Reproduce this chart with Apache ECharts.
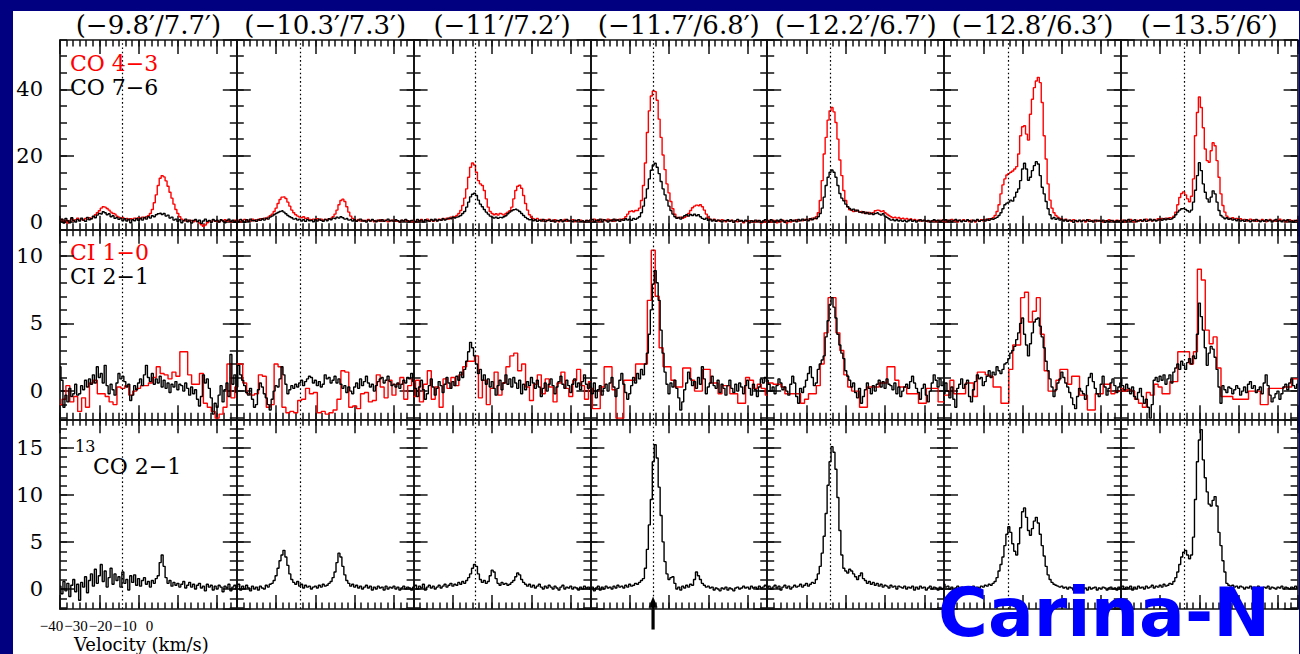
<!DOCTYPE html>
<html><head><meta charset="utf-8">
<script src="https://cdn.jsdelivr.net/npm/echarts@6/dist/echarts.min.js"></script>
<style>
html,body{margin:0;padding:0;background:#000080;}
#wrap{position:relative;width:1300px;height:654px;background:#000080;overflow:hidden;}
#paper{position:absolute;left:13px;top:11px;width:1286px;height:643px;background:#fff;}
#chart{position:absolute;left:0;top:0;width:1300px;height:654px;}
</style></head><body>
<div id="wrap"><div id="paper"></div><div id="chart"></div></div>
<script>
// ---------------- DATA ----------------
const panelTitles = ['(−9.8′/7.7′)','(−10.3′/7.3′)','(−11′/7.2′)','(−11.7′/6.8′)','(−12.2′/6.7′)','(−12.8′/6.3′)','(−13.5′/6′)'];
const velFine = [-40,-39,-38,-37,-36,-35,-34,-33,-32,-31,-30,-29,-28,-27,-26,-25,-24,-23,-22,-21,-20,-19,-18,-17,-16,-15,-14,-13,-12,-11,-10,-9,-8,-7,-6,-5,-4,-3,-2,-1,0,1,2,3,4,5,6,7,8,9,10,11,12,13,14,15,16,17,18,19,20,21,22,23,24,25,26,27,28,29,30,31,32,33,34,35,36,37,38,39,40,41,42,43,44,45,46,47,48,49,50];
const velCoarse = [-40,-38,-36,-34,-32,-30,-28,-26,-24,-22,-20,-18,-16,-14,-12,-10,-8,-6,-4,-2,0,2,4,6,8,10,12,14,16,18,20,22,24,26,28,30,32,34,36,38,40,42,44,46,48,50];
const dottedV = [-8.3,-7.8,-8.6,-8.1,-7.9,-7.4,-7.9];
const yTicksCO = [0,20,40];
const yTicksCI = [0,5,10];
const yTicks13 = [0,5,10,15];
const velTickLabels = [-40,-30,-20,-10,0];

// CO 4-3 (red), 1 km/s channels, per panel
const co43 = [
[0.3,0.8,0.2,0.6,-0.3,0.5,1.0,0.4,0.7,1.2, 0.6,0.9,0.5,1.1,0.8,1.3,1.0,1.6,2.2,2.8, 3.4,4.2,4.6,4.5,4.1,3.6,3.0,2.6,2.4,1.8, 1.5,1.2,1.4,0.9,1.1,0.7,1.0,0.8,1.2,0.9, 1.3,1.0,1.5,1.2,1.6,1.9,2.6,3.8,5.8,8.2, 11.0,13.2,14.0,13.6,12.4,10.8,9.0,7.2,5.4,3.8, 2.6,1.6,0.9,0.5,0.3,0.6,0.2,0.5,0.1,0.4, 0.2,-0.3,-0.8,-1.3,-0.9,-0.2,0.3,0.1,0.6,0.2, 0.4,0.0,0.5,0.3,0.7,0.2,0.5,0.1,0.4,0.6,0.3],
[0.3,0.6,0.1,0.5,0.8,0.2,0.6,0.3,0.9,0.4, 0.7,0.5,1.0,0.8,1.2,1.0,1.5,1.9,2.4,3.2, 4.2,5.6,6.8,7.5,7.6,7.1,6.0,4.8,3.6,2.8, 2.2,1.8,1.5,1.3,1.6,1.1,1.3,0.8,0.6,0.9, 0.7,1.0,0.6,0.9,0.5,0.8,0.7,1.0,1.2,1.6, 2.4,3.6,5.2,6.5,6.9,6.2,4.6,3.0,1.8,1.1, 0.7,0.4,0.8,0.3,0.6,0.2,0.5,0.8,0.3,0.6, 0.1,0.5,0.3,0.7,0.2,0.6,0.4,0.1,0.5,0.3, 0.6,0.2,0.4,0.0,0.5,0.3,0.7,0.2,0.4,0.1,0.5],
[0.4,0.1,0.7,0.3,0.8,0.2,0.5,0.9,0.3,0.6, 0.2,0.7,0.4,0.9,0.5,1.1,0.8,1.2,0.9,1.5, 1.3,1.6,2.0,2.6,3.5,5.0,7.2,10.0,13.5,16.5, 17.8,17.2,15.0,12.5,11.5,11.0,9.5,7.0,4.5,3.2, 2.6,2.2,2.5,2.1,2.6,2.4,2.1,2.6,3.0,3.4, 4.5,7.0,9.5,10.8,11.1,10.2,8.0,5.6,3.6,2.2, 1.4,1.0,0.7,1.1,0.5,0.8,0.3,0.7,0.4,0.9, 0.5,0.2,0.7,0.4,0.1,0.6,0.3,0.8,0.2,0.5, 0.3,0.7,0.1,0.5,0.2,0.6,0.4,0.0,0.5,0.3,0.6],
[0.6,0.2,0.9,0.4,0.7,0.1,0.8,0.5,0.3,0.9, 0.4,0.7,0.2,0.8,0.5,0.9,0.6,1.0,1.6,2.4, 3.2,3.4,3.1,3.5,3.5,4.2,6.5,11.0,17.8,27.0, 33.5,38.0,39.5,39.3,36.7,31.0,25.5,20.2,15.8,11.5, 8.8,6.2,4.0,2.4,1.4,1.2,1.5,1.1,1.4,1.8, 2.6,3.5,4.3,4.8,5.1,4.9,5.2,4.6,3.6,2.4, 1.4,0.8,0.5,0.9,0.3,0.6,0.2,0.7,0.4,0.1, 0.5,0.2,0.6,-0.1,0.4,0.1,0.5,0.2,-0.2,0.3, 0.1,0.4,-0.1,0.3,0.0,0.5,0.2,-0.3,0.3,0.0,0.4],
[0.2,0.5,0.0,0.6,0.3,-0.2,0.4,0.1,0.6,0.2, -0.3,0.3,0.0,0.5,0.2,0.7,0.3,0.6,0.4,0.8, 0.5,0.9,0.7,1.2,1.0,1.6,2.8,6.5,12.5,20.5, 25.5,30.7,33.5,34.5,33.2,30.0,25.0,18.7,14.0,9.5, 6.5,4.6,3.7,3.5,3.2,3.6,3.3,3.0,3.2,2.8, 3.0,2.6,2.9,2.5,2.8,3.4,3.6,3.5,3.2,3.4, 2.8,2.4,2.0,1.6,1.3,1.5,1.2,1.4,1.0,1.2, 0.9,1.1,0.8,1.0,0.6,0.8,0.5,0.7,0.3,0.5, 0.3,0.4,0.1,0.3,0.2,0.5,0.1,0.4,0.6,0.3,0.8],
[0.4,0.1,0.6,0.3,0.8,0.2,0.5,0.0,0.6,0.3, 0.7,0.2,0.5,0.1,0.6,0.4,0.0,0.5,0.3,0.7, 0.4,0.8,0.5,1.0,0.8,1.3,2.0,3.2,5.2,8.5, 11.2,13.0,14.2,14.6,15.0,15.4,16.0,16.7,20.5,26.0, 28.7,29.0,26.5,24.7,32.5,37.0,40.5,42.5,43.6,42.0, 36.0,26.0,19.0,11.5,6.6,4.2,2.8,2.0,1.5,1.1, 0.8,0.5,0.9,0.3,0.6,0.2,0.7,0.4,0.1,0.5, 0.3,0.6,0.0,0.4,0.7,0.2,0.5,0.1,0.6,0.3, 0.5,0.0,0.4,0.2,0.7,0.3,0.5,0.1,0.6,0.4,0.2],
[0.2,0.6,0.1,0.5,0.3,0.8,0.4,0.0,0.6,0.3, 0.7,0.2,0.5,0.9,0.4,0.7,0.3,0.8,0.5,1.0, 0.6,1.1,0.8,1.2,0.9,1.3,1.2,1.8,3.0,5.2, 7.4,8.6,9.1,8.2,7.0,6.1,7.8,13.0,26.0,33.0, 37.7,34.5,28.4,22.0,18.5,18.0,21.5,23.9,23.0,18.5, 13.5,8.5,5.0,3.0,1.8,1.2,0.9,1.3,0.8,1.1, 0.7,1.0,0.5,0.8,0.3,0.6,0.9,0.4,0.7,0.2, 0.6,0.3,0.8,0.4,0.1,0.5,0.8,0.3,0.6,0.2, 0.5,0.9,0.3,0.6,0.1,0.4,0.7,0.2,0.5,0.3,0.6]
];
// CO 7-6 (black)
const co76 = [
[0.2,0.9,-0.3,1.1,0.4,-0.2,1.3,0.5,0.0,0.8, 0.3,1.2,0.6,0.2,1.4,0.7,1.0,1.8,1.3,2.1, 2.6,2.4,3.1,2.8,2.2,2.5,1.6,1.9,1.1,1.4, 0.8,1.2,0.4,1.0,0.3,0.9,-0.2,0.7,0.4,1.1, 0.5,1.2,0.6,1.4,0.9,1.6,1.2,1.9,1.6,2.2, 2.5,2.7,2.3,2.6,1.8,2.1,1.2,1.5,0.6,0.9, 0.2,0.7,-0.2,0.4,0.9,0.1,0.6,-0.3,0.5,0.8, 0.1,0.6,-0.4,0.3,0.9,0.2,0.5,-0.1,0.8,0.3, 0.6,0.0,0.7,0.3,-0.2,0.5,0.9,0.2,0.6,-0.1,0.4],
[0.6,0.1,0.8,0.3,-0.1,0.7,0.2,0.9,0.4,0.6, 0.2,0.8,0.5,1.0,0.6,1.2,0.9,1.5,1.8,2.2, 2.6,2.9,3.2,3.4,3.0,2.5,2.0,1.6,1.3,0.9, 1.1,0.6,0.9,0.3,0.7,0.2,0.8,0.4,0.6,0.1, 0.7,0.3,0.9,0.5,0.2,0.8,0.4,1.0,0.7,1.2, 1.0,1.5,1.2,1.6,1.3,0.9,1.1,0.6,0.8,0.3, 0.7,0.2,0.6,0.9,0.3,0.5,0.0,0.6,0.3,0.8, 0.4,0.1,0.6,0.3,0.7,0.2,0.5,0.9,0.3,0.6, 0.2,0.7,0.4,0.0,0.6,0.3,0.8,0.4,0.1,0.5,0.3],
[0.5,0.1,0.8,0.3,0.6,0.0,0.7,0.4,0.2,0.8, 0.4,0.9,0.3,0.7,0.5,1.0,0.6,0.9,1.2,1.0, 1.4,1.2,1.5,1.7,2.0,2.6,3.2,4.5,6.0,7.6, 8.4,8.7,8.0,6.6,5.4,4.6,3.8,3.0,2.4,1.8, 1.5,1.2,1.5,1.1,1.4,1.3,1.6,1.9,2.5,3.0, 3.4,3.7,3.9,3.6,3.2,2.6,2.0,1.4,1.0,0.7, 0.9,0.4,0.7,0.2,0.6,0.3,0.8,0.1,0.5,0.7, 0.2,0.6,0.0,0.5,0.3,0.7,0.1,0.4,0.8,0.3, 0.5,0.1,0.6,0.3,0.7,0.2,0.4,0.0,0.5,0.3,0.6],
[0.3,0.8,0.1,0.6,0.4,0.9,0.2,0.7,0.5,0.0, 0.6,0.3,0.9,0.4,0.7,0.2,0.8,0.5,1.0,0.6, 0.9,0.5,1.1,0.8,1.2,1.6,2.8,4.8,7.2,10.0, 13.0,15.6,17.2,17.7,16.5,14.6,12.2,10.0,8.2,6.6, 4.8,3.5,2.4,1.6,1.1,1.4,0.9,1.5,1.9,2.2, 1.8,2.3,2.0,2.4,1.9,2.2,1.6,1.1,0.8,1.2, 0.5,0.9,0.3,0.7,0.2,0.6,0.4,0.0,0.5,0.3, 0.7,0.2,0.5,-0.1,0.4,0.8,0.2,0.5,0.1,0.6, 0.3,-0.2,0.4,0.1,0.6,0.2,0.5,-0.1,0.3,0.7,0.2],
[0.5,0.1,0.7,0.3,0.0,0.6,0.2,0.8,0.4,-0.1, 0.5,0.2,0.7,0.3,0.6,0.1,0.8,0.4,0.9,0.5, 0.8,0.4,1.0,0.7,1.2,1.0,1.6,2.6,4.2,7.5, 11.0,13.5,15.0,15.7,15.0,13.5,11.0,8.6,7.2,6.4, 5.4,4.6,4.1,3.6,3.9,3.3,3.6,3.0,2.8,3.1, 2.6,2.9,2.4,2.7,2.3,2.6,2.8,2.4,2.1,2.5, 1.8,1.4,1.0,0.6,0.8,0.4,0.7,0.3,0.6,0.2, 0.5,0.1,0.4,0.7,0.2,0.5,0.0,0.4,0.7,0.3, 0.6,0.2,0.5,0.0,0.4,0.7,0.3,0.6,0.1,0.5,0.8],
[0.3,0.7,0.2,0.6,0.0,0.5,0.8,0.3,0.6,0.1, 0.5,0.2,0.7,0.4,0.0,0.6,0.3,0.8,0.2,0.5, 0.7,0.3,0.9,0.5,1.0,0.8,1.1,1.4,2.0,2.8, 4.0,5.2,5.7,6.0,6.6,6.3,7.5,9.0,10.0,12.5, 16.0,17.7,16.0,12.6,13.5,15.5,17.0,18.2,17.5,14.0, 10.5,8.5,6.2,4.0,2.2,1.0,1.4,0.8,1.2,0.6, 0.9,0.3,0.7,0.2,0.6,0.4,-0.1,0.5,0.2,0.6, 0.1,0.5,0.3,0.7,0.2,0.4,0.0,0.6,0.3,0.5, 0.2,0.6,-0.1,0.4,0.1,0.5,0.3,0.0,0.4,0.2,0.5],
[0.5,0.1,0.6,0.3,0.8,0.2,0.5,0.7,0.1,0.4, 0.6,0.3,0.8,0.2,0.5,0.9,0.4,0.7,0.3,0.6, 0.9,0.5,1.0,0.7,1.1,0.8,1.0,1.4,2.2,3.0, 3.6,4.0,4.1,3.8,3.4,3.0,3.6,6.0,9.6,14.0, 17.9,15.5,11.5,9.0,7.0,6.0,7.5,9.4,8.5,6.0, 3.5,2.0,1.5,1.0,1.3,0.8,1.1,0.6,0.9,0.4, 0.8,0.3,0.6,0.2,0.7,0.4,0.1,0.6,0.3,0.8, 0.4,0.1,0.5,0.2,0.7,0.3,0.6,0.0,0.4,0.8, 0.2,0.5,0.1,0.6,0.3,0.7,0.2,0.4,0.0,0.5,0.3]
];
// CI 1-0 (red), 2 km/s channels
const ci10 = [
[-1.0,-0.6,0.4,-0.8,-0.4,-1.5,-0.5,-1.2,0.6,0.8, -0.2,-0.2,-0.4,-0.8,-1.0,0.3,0.2,0.4,-0.3,0.0, 0.2,0.4,0.4,0.6,1.0,1.8,1.3,1.2,0.9,1.4, 1.1,2.9,2.9,1.2,0.5,0.5,1.3,-0.9,-1.2,-1.5, -2.0,-1.7,-1.2,2.0,-0.5,0.3],
[2.0,2.0,0.6,-0.2,-0.3,-0.2,1.2,1.1,-1.2,-1.0, 2.0,1.8,-1.2,-1.6,-1.5,-1.6,-0.7,-0.6,0.2,-0.2, -0.1,-1.6,-1.5,-1.7,-1.6,-1.4,-0.6,1.5,1.4,-1.2, -1.1,-1.3,-0.2,-0.1,-0.8,-0.7,1.2,0.3,-0.5,0.8, -0.3,0.5,1.0,-0.6,0.4,0.9],
[-0.4,0.8,-0.8,0.5,1.5,-0.6,0.3,-1.2,0.9,0.2, 1.0,0.4,1.2,1.8,2.2,2.2,2.6,-0.5,0.8,-1.0, 0.2,1.4,-0.3,0.6,1.8,2.6,2.8,1.5,2.0,0.3, -0.7,0.5,1.2,-0.2,0.9,0.3,-0.8,0.6,1.4,0.2, -0.4,0.8,1.6,0.4,-0.6,0.7],
[0.2,-1.3,-1.3,0.3,1.8,1.8,0.1,-2.0,-2.0,0.8, 0.8,0.8,2.0,2.0,2.0,6.7,10.4,7.0,3.2,1.8, 1.8,0.8,0.3,0.3,1.7,1.7,0.8,0.0,0.0,1.6, 1.6,0.6,0.6,-0.2,0.4,0.4,-0.2,-0.2,-0.9,-0.9, 1.0,0.8,0.2,0.5,0.2,-0.3],
[0.6,0.6,0.5,0.5,0.3,-0.2,-0.2,-0.2,-0.2,-0.9, -0.6,-0.2,-0.2,0.4,2.0,4.3,6.9,6.9,4.3,3.0, 1.2,0.3,0.0,0.0,-1.2,-1.2,0.3,0.3,0.3,0.6, 0.6,1.8,1.8,0.8,0.3,0.3,-0.2,-0.2,-0.2,-0.9, -0.9,0.2,0.2,0.2,-0.8,-0.8],
[-0.3,-0.3,0.8,-0.2,-0.2,-0.2,0.6,0.6,-0.4,1.4, 1.4,1.2,1.1,0.3,0.3,-0.9,-0.9,1.6,3.4,3.4, 6.9,7.3,5.1,5.9,6.9,4.2,1.5,0.0,0.0,0.8, 1.6,1.6,0.5,1.1,1.1,-0.3,-0.3,-1.4,-1.4,-0.2, -0.2,0.5,0.5,-0.2,0.0,0.0],
[0.2,0.0,0.1,0.0,-0.6,-0.9,-1.2,-0.1,-0.3,0.5, 0.3,-0.2,-0.2,0.7,0.7,2.9,2.9,2.9,2.0,2.9, 9.0,8.2,4.5,3.5,4.0,1.7,-0.4,-0.4,-0.4,-0.6, -0.6,-0.6,-0.6,0.0,0.0,0.0,-1.0,-1.0,0.2,0.2, 0.2,0.2,0.3,0.3,0.9,0.9]
];
// CI 2-1 (black)
const ci21 = [
[1.8,0.8,-1.2,-0.3,-0.8,0.2,-0.4,-0.2,0.5,-0.3, -0.2,0.4,0.1,0.8,0.3,0.9,0.5,1.2,0.6,1.8, 1.0,1.3,0.6,1.9,0.4,-0.2,0.5,0.1,-0.3,0.6, 1.3,0.9,1.1,0.7,0.3,0.5,-0.7,-0.3,0.4,0.1, 0.6,0.9,0.4,1.2,1.9,1.0,0.7,1.3,0.5,0.9, 0.6,1.1,0.3,0.8,0.2,0.6,-0.1,0.5,0.3,0.7, 0.1,0.5,0.4,0.0,0.6,0.2,-0.3,0.3,-0.2,0.1, -0.6,-1.1,-0.4,1.2,0.6,0.9,0.2,-0.5,-1.7,-0.9, -1.2,-0.3,0.4,-0.8,0.1,0.6,-0.4,2.7,0.5,1.2,-0.1],
[0.3,1.9,1.2,0.8,0.4,-0.1,-0.3,0.2,-0.6,-1.2, -1.0,0.1,0.6,0.3,-0.2,-0.5,-1.0,-1.4,-0.6,0.0, 0.4,0.3,0.9,1.8,1.2,0.5,-0.2,0.1,0.4,0.2, 0.5,0.3,0.6,0.8,0.4,0.7,0.9,1.1,1.0,0.6, 0.8,0.4,0.7,0.3,0.5,1.2,0.9,1.0,0.6,0.8, 1.1,0.6,0.9,0.5,0.2,0.4,-0.1,0.3,0.0,-0.2, 0.3,0.6,0.2,0.9,0.4,0.7,1.1,0.6,0.3,0.5, 0.0,0.4,0.7,0.9,1.0,0.6,0.8,1.1,0.7,0.4, 0.5,0.3,0.6,0.2,0.5,0.8,0.6,1.0,0.9,1.3,0.7],
[0.6,0.2,-0.4,0.3,0.8,0.1,-0.6,-0.2,0.4,0.9, 0.3,-0.3,0.2,0.7,0.4,-0.1,0.5,1.0,0.6,0.2, 0.7,0.4,1.1,0.8,1.4,1.0,1.6,2.2,2.9,3.6, 3.2,2.6,2.0,1.3,1.6,0.8,1.2,0.5,0.9,0.3, 0.7,0.2,-0.3,0.4,0.8,0.1,0.6,1.2,0.5,0.9, 0.3,1.0,0.6,0.2,0.8,-0.2,0.5,0.1,0.7,0.4, 1.0,0.6,0.2,0.8,0.3,-0.4,0.2,0.6,0.0,0.5, 0.9,0.4,-0.2,0.3,0.7,1.1,0.5,0.2,0.8,0.4, -0.1,0.5,0.9,0.3,0.6,0.1,0.7,1.2,0.5,0.2,0.6],
[0.3,-0.2,0.6,-0.5,0.1,0.4,-0.3,0.2,0.5,0.0, 0.6,1.0,0.3,-0.4,0.2,0.8,1.3,0.5,-0.1,-0.6, -0.2,0.4,1.0,0.6,1.3,0.9,1.6,1.2,2.0,2.8, 4.2,6.0,7.9,8.9,8.0,6.7,4.5,2.8,1.4,0.5, -0.2,0.6,0.3,0.8,0.2,-0.5,-1.4,-0.8,0.1,0.6, 1.4,0.9,0.4,0.7,0.2,1.0,0.5,1.8,0.9,-0.2, 0.3,0.6,1.1,0.4,0.2,0.8,-0.1,0.5,0.2,-0.3, 0.4,0.8,0.2,-0.1,0.5,0.0,0.6,0.3,-0.2,0.4, 0.8,0.2,-0.3,0.5,0.1,-0.4,0.3,0.9,0.6,1.0,0.7],
[0.8,0.5,0.0,0.3,-0.2,0.4,0.9,0.6,0.1,0.3, 0.0,-0.3,0.5,1.1,0.6,-0.4,-0.9,0.2,-0.1,0.3, 0.8,1.3,1.8,1.0,0.4,0.6,1.6,2.0,2.3,2.6, 4.0,5.2,6.4,6.9,6.2,5.4,4.2,3.4,2.8,2.4, 1.5,1.1,0.8,0.3,0.6,-0.1,-0.5,0.2,-0.9,-0.4, 0.1,0.6,0.2,-0.2,0.4,0.0,0.5,0.8,0.3,0.7, 0.2,0.9,0.5,0.4,0.1,0.6,-0.2,0.3,-0.4,0.0, 0.3,0.5,0.2,0.7,1.1,0.6,0.2,-0.1,-0.6,0.2, 0.5,-0.3,-0.8,0.0,0.6,1.2,0.8,0.3,0.9,0.4,0.7],
[-0.2,0.6,0.0,-0.5,0.3,-0.6,-1.2,0.2,0.5,0.9, 0.2,0.5,0.8,-0.4,-0.8,0.1,0.7,1.2,0.9,1.0, 0.4,0.7,1.1,1.5,1.0,1.4,1.2,1.8,1.5,1.3, 1.6,2.0,2.1,2.4,2.8,3.0,3.3,3.8,4.3,5.0, 5.4,4.2,3.4,2.6,3.5,4.3,5.1,5.3,5.4,4.8, 4.0,3.2,2.2,1.5,0.9,0.3,-0.4,0.1,0.6,0.9, 1.4,1.0,0.6,0.3,-0.1,-0.5,-1.0,-1.3,-0.4,0.2, 0.0,-0.2,-0.6,0.4,1.0,1.3,0.7,0.2,-0.2,-0.4, 0.5,1.1,0.3,-0.3,0.2,0.6,0.9,0.4,-0.1,0.3,0.6],
[0.9,0.4,0.1,0.5,0.2,-0.2,0.3,-0.4,-0.6,-0.1, 0.2,-0.4,-0.9,-0.6,-1.2,-2.0,-1.0,0.8,1.0,0.7, 1.1,0.8,1.2,0.5,0.9,1.2,0.6,1.4,1.7,2.0, 1.6,2.2,1.9,1.6,2.1,2.4,2.0,2.6,2.4,4.2, 6.5,5.5,4.5,3.2,1.9,2.8,3.3,3.1,2.5,1.6, 0.3,-0.9,0.4,0.1,-0.1,0.3,0.2,-0.2,0.1,0.4, 0.2,-0.3,0.0,0.3,-0.1,0.5,0.7,0.2,0.4,-0.1, 0.1,0.3,-0.2,0.6,1.2,0.4,-0.3,-0.8,-0.5,-0.2, 0.0,-0.6,-0.2,0.3,0.5,0.1,0.6,0.9,0.4,0.2,0.5]
];
// 13CO 2-1 (black)
const co13 = [
[0.3,-0.5,0.8,-0.2,0.6,-0.8,0.4,1.0,-0.3,0.5, -1.2,0.7,0.2,1.3,-0.4,0.9,1.6,0.3,2.1,0.6, 1.4,2.6,0.8,1.9,0.2,1.2,2.2,0.5,1.6,0.9, 1.3,0.2,1.8,0.6,1.0,-0.1,1.4,0.7,1.5,0.4, 1.1,0.3,0.9,1.2,0.5,0.8,0.2,0.9,0.6,1.1, 1.4,2.8,3.6,2.4,1.2,0.6,0.9,0.3,0.7,0.4, 0.6,0.2,0.5,0.8,0.1,0.4,0.7,0.2,0.5,0.0, 0.4,0.6,0.1,0.3,-0.2,0.5,0.2,0.4,-0.1,0.3, 0.0,0.4,0.2,-0.3,0.3,0.1,0.5,-0.2,0.2,0.4,0.0],
[0.2,0.5,-0.1,0.3,0.0,0.4,0.1,-0.2,0.3,0.0, 0.2,-0.1,0.3,0.1,0.0,0.4,0.2,0.5,0.6,0.9, 1.4,2.2,3.0,3.6,4.1,3.4,2.5,1.6,1.0,0.7, 0.5,0.8,0.3,0.5,0.1,0.4,0.2,0.3,0.0,0.2, 0.3,0.1,0.4,0.2,0.5,0.3,0.4,0.6,0.8,1.2, 1.8,2.8,3.8,3.4,2.4,1.5,0.9,0.6,0.3,0.5, 0.2,0.4,0.1,0.3,0.0,0.2,0.4,0.1,0.3,-0.1, 0.2,0.0,0.3,0.1,0.2,-0.1,0.3,0.0,0.2,0.1, 0.3,0.0,0.2,-0.1,0.1,0.3,0.0,0.2,0.1,-0.1,0.2],
[0.2,0.4,0.0,0.3,0.1,0.5,-0.1,0.2,0.4,0.1, 0.3,0.0,0.2,0.4,0.1,0.3,0.5,0.2,0.4,0.6, 0.3,0.5,0.4,0.7,0.5,0.8,0.6,0.9,1.2,1.6, 2.2,2.6,2.4,1.6,1.0,0.7,0.9,0.6,0.8,1.4, 2.0,1.8,1.1,0.6,0.4,0.7,0.5,0.6,0.4,0.5, 0.7,0.9,1.3,1.7,1.5,1.0,0.7,0.5,0.3,0.5, 0.2,0.4,0.1,0.3,0.5,0.2,0.0,0.3,0.1,0.4, 0.2,0.0,0.3,0.1,-0.1,0.2,0.4,0.0,0.2,0.1, 0.3,0.0,0.2,0.1,-0.1,0.2,0.0,0.3,0.1,0.2,0.0],
[0.0,0.2,-0.2,0.1,0.3,-0.1,0.2,0.0,0.3,0.1, 0.2,0.0,0.3,0.1,0.4,0.2,0.3,0.1,0.4,0.2, 0.5,0.3,0.4,0.6,0.5,0.7,0.9,1.1,2.2,4.2, 6.8,9.5,13.5,15.3,13.9,10.8,7.8,5.0,2.9,1.6, 1.0,1.2,1.3,0.6,0.0,0.2,-0.1,0.3,0.1,0.4, 0.2,0.5,0.4,1.0,1.8,1.4,1.0,0.6,0.4,0.2, 0.3,0.1,0.2,-0.1,0.1,0.0,-0.2,0.1,0.0,0.2, -0.1,0.1,0.0,-0.2,0.1,0.2,0.0,0.1,0.3,0.1, 0.2,0.0,0.3,0.1,0.2,0.0,0.3,0.1,0.2,0.4,0.2],
[0.1,0.3,0.0,0.2,0.4,0.1,0.3,-0.1,0.2,0.4, 0.1,0.3,0.0,0.2,0.4,0.2,0.3,0.5,0.2,0.4, 0.6,0.3,0.5,0.7,0.6,1.0,1.6,2.4,3.8,5.6, 8.0,11.0,13.5,15.1,14.5,12.7,9.7,6.2,3.6,2.2, 1.9,1.7,2.1,1.9,1.6,1.3,1.0,1.4,1.7,1.1, 0.9,0.6,0.8,0.5,0.7,0.4,0.6,0.3,0.5,0.2, 0.4,0.3,0.1,0.4,0.2,0.3,0.0,0.3,0.2,0.1, 0.3,0.0,0.2,0.1,0.3,-0.1,0.2,0.0,0.3,0.1, 0.2,-0.1,0.1,0.3,0.0,0.2,0.1,-0.1,0.2,0.0,0.1],
[0.5,0.2,0.3,0.0,0.2,-0.1,0.1,0.3,0.0,0.2, 0.1,-0.1,0.2,0.0,0.1,0.3,0.0,0.2,0.1,0.3, 0.2,0.4,0.3,0.5,0.4,0.6,0.8,1.2,1.9,2.6, 3.4,4.6,5.8,6.6,6.0,4.8,4.0,3.6,4.8,6.5, 8.2,8.6,7.6,6.2,5.7,6.4,7.2,7.6,7.0,5.8, 4.6,3.5,2.4,1.5,1.0,0.7,0.5,0.4,0.3,0.2, 0.3,0.1,0.2,0.0,0.2,0.1,-0.1,0.2,0.0,0.1, 0.2,0.0,0.1,-0.1,0.2,0.0,0.1,0.2,-0.1,0.1, 0.0,0.2,0.1,-0.1,0.1,0.2,0.0,0.1,-0.1,0.2,0.0],
[0.1,0.3,0.0,0.2,0.1,0.3,-0.1,0.2,0.0,0.3, 0.1,0.2,0.0,0.3,0.1,0.2,0.4,0.1,0.3,0.2, 0.4,0.2,0.5,0.3,0.4,0.6,0.5,0.8,1.2,1.8, 2.6,3.4,3.9,4.1,3.6,3.2,3.6,5.5,9.5,13.5, 15.8,16.9,13.7,11.8,10.3,9.0,8.8,9.4,9.8,8.8, 6.0,4.6,3.0,1.8,0.6,0.4,0.3,0.4,0.2,0.3, 0.1,0.3,0.2,0.0,0.2,0.1,0.3,0.0,0.2,0.1, 0.3,0.1,0.0,0.2,0.1,0.3,0.0,0.2,0.1,0.0, 0.2,0.1,0.3,0.0,0.2,0.1,0.0,0.2,0.1,0.3,0.1]
];

// ---------------- LAYOUT ----------------
const L0 = 60, PW = 176.8, RH = 189.67;
const rowTop = [40, 229.7, 419.3];
const rowCfg = [
  {min:-2.29, max:54.85, major:20, minor:5, ticks:yTicksCO},
  {min:-2.09, max:11.92, major:5, minor:1, ticks:yTicksCI},
  {min:-2.12, max:18.0, major:5, minor:1, ticks:yTicks13}
];
const INK = '#111';
const RED = '#ff0000';
const SERIF = '"DejaVu Serif", serif';

const grids = [], xAxes = [], yAxes = [], series = [];
function xAx(g, pos, major) {
  return {type:'value', gridIndex:g, position:pos, min:-40, max:50, interval: major ? 20 : 10/3,
    axisLine:{show:major, onZero:false, lineStyle:{color:INK, width:1.7}},
    axisTick:{show:true, inside:true, length: major ? 14 : 6.5, lineStyle:{color:INK, width:1.5}},
    axisLabel:{show:false}, splitLine:{show:false}};
}
function yAx(g, r, pos, major, showLabel) {
  const R = rowCfg[r], step = major ? R.major : R.minor;
  return {type:'value', gridIndex:g, position:pos, min:R.min, max:R.max,
    minInterval:step, maxInterval:step, splitNumber:4,
    axisLine:{show:major, onZero:false, lineStyle:{color:INK, width:1.7}},
    axisTick:{show:true, inside:true, length: major ? 14 : 7, lineStyle:{color:INK, width:1.5}},
    axisLabel:{show:showLabel, margin:17, color:'#000', fontFamily:SERIF, fontSize:21,
      showMinLabel:false, showMaxLabel:false,
      formatter: v => (R.ticks.indexOf(Math.round(v*1000)/1000) >= 0 ? String(v) : '')},
    splitLine:{show:false}};
}
function mk(xs, ys) { return xs.map((v,i) => [v, ys[i]]); }
function lineSeries(g, xs, ys, color, withMark, k) {
  const s = {type:'line', xAxisIndex:4*g, yAxisIndex:4*g, data:mk(xs, ys), step:'middle',
    symbol:'none', showSymbol:false, silent:true, animation:false, clip:true,
    lineStyle:{color:color, width:1.4}, itemStyle:{color:color}};
  if (withMark) s.markLine = {silent:true, symbol:'none', animation:false, label:{show:false},
    lineStyle:{type:[1.6,2.6], color:'#000', width:1.2}, data:[{xAxis: dottedV[k]}]};
  return s;
}

for (let r = 0; r < 3; r++) {
  for (let k = 0; k < 7; k++) {
    const g = r*7 + k;
    grids.push({left: L0 + k*PW, top: rowTop[r], width: PW, height: RH, containLabel:false});
    xAxes.push(xAx(g,'bottom',true), xAx(g,'bottom',false), xAx(g,'top',true), xAx(g,'top',false));
    yAxes.push(yAx(g,r,'left',true,k===0), yAx(g,r,'left',false,false), yAx(g,r,'right',true,false), yAx(g,r,'right',false,false));
    if (r === 0) {
      series.push(lineSeries(g, velFine, co43[k], RED, true, k));
      series.push(lineSeries(g, velFine, co76[k], '#000', false, k));
    } else if (r === 1) {
      series.push(lineSeries(g, velCoarse, ci10[k], RED, true, k));
      series.push(lineSeries(g, velFine, ci21[k], '#000', false, k));
    } else {
      series.push(lineSeries(g, velFine, co13[k], '#000', true, k));
    }
  }
}
// bottom velocity label axis (as printed under the first panel)
grids.push({left:51.5, top:609, width:98, height:1, containLabel:false});
xAxes.push({type:'value', gridIndex:21, position:'bottom', min:velTickLabels[0], max:velTickLabels[velTickLabels.length-1], interval:10,
  axisLine:{show:false, onZero:false}, axisTick:{show:false}, splitLine:{show:false},
  axisLabel:{show:true, margin:8, color:'#000', fontFamily:'"Liberation Serif", serif', fontSize:15,
    formatter: v => (v < 0 ? '−' + Math.abs(v) : String(v))}});
yAxes.push({type:'value', gridIndex:21, show:false, min:0, max:1});

const chart = echarts.init(document.getElementById('chart'), null, {renderer:'svg'});
chart.setOption({animation:false, backgroundColor:'transparent', grid:grids, xAxis:xAxes, yAxis:yAxes, series:series});

// ---------------- TEXT / ANNOTATIONS ----------------
const gfx = [];
panelTitles.forEach((t, k) => gfx.push({type:'text', x: L0 + (k+0.5)*PW, y: 25,
  style:{text:t, fill:'#000', font:'26px ' + SERIF, align:'center', verticalAlign:'middle'}}));
gfx.push({type:'text', x:70, y:63, style:{text:'CO 4−3', fill:RED, font:'22px ' + SERIF, verticalAlign:'middle'}});
gfx.push({type:'text', x:70, y:87, style:{text:'CO 7−6', fill:'#000', font:'22px ' + SERIF, verticalAlign:'middle'}});
gfx.push({type:'text', x:70, y:252, style:{text:'CI 1−0', fill:RED, font:'22px ' + SERIF, verticalAlign:'middle'}});
gfx.push({type:'text', x:70, y:276, style:{text:'CI 2−1', fill:'#000', font:'22px ' + SERIF, verticalAlign:'middle'}});
gfx.push({type:'text', x:75, y:446, style:{text:'13', fill:'#000', font:'16px ' + SERIF, verticalAlign:'middle'}});
gfx.push({type:'text', x:93, y:466, style:{text:'CO 2−1', fill:'#000', font:'22px ' + SERIF, verticalAlign:'middle'}});
gfx.push({type:'text', x:74, y:644, style:{text:'Velocity (km/s)', fill:'#000', font:'18px ' + SERIF, verticalAlign:'middle'}});
gfx.push({type:'text', x:938, y:612, z:100, style:{text:'Carina-N', fill:'#0000ff', font:'bold 68px "DejaVu Sans", sans-serif', verticalAlign:'middle'}});
// arrow under the 4th panel, at its reference velocity
const tip = chart.convertToPixel({gridIndex:17}, [dottedV[3], -0.8]);
gfx.push({type:'polygon', shape:{points:[[tip[0], tip[1]], [tip[0]-4.5, tip[1]+11], [tip[0]+4.5, tip[1]+11]]}, style:{fill:'#000'}});
gfx.push({type:'line', shape:{x1:tip[0], y1:tip[1]+8, x2:tip[0], y2:tip[1]+33}, style:{stroke:'#000', lineWidth:3.2}});
chart.setOption({graphic: gfx});
</script>
</body></html>
